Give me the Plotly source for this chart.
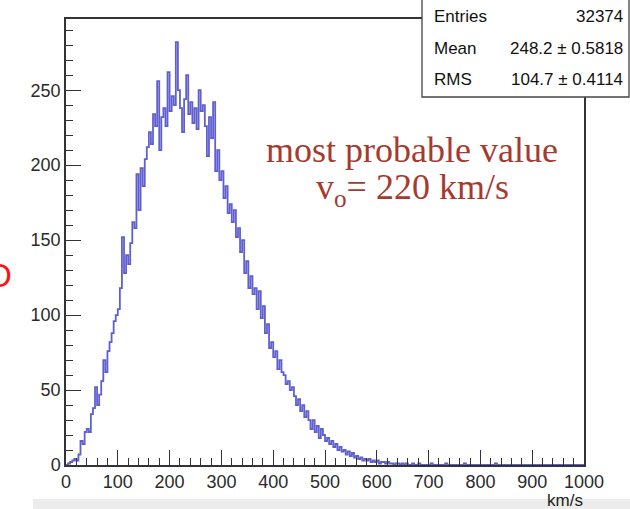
import numpy as np
import plotly.graph_objects as go

# ---------------- data ----------------
v_low = 0
v_high = 1000
bin_width = 4  # km/s
counts = [
    0, 1, 2, 3, 4, 3, 7, 16, 14, 22,            # 0-40
    24, 22, 34, 38, 52, 40, 47, 56, 70, 62,      # 40-80
    76, 82, 88, 96, 100, 104, 118, 152, 128, 140,  # 80-120
    134, 148, 162, 158, 194, 170, 198, 186, 204, 212,  # 120-160
    222, 214, 234, 226, 256, 210, 232, 238, 226, 262,  # 160-200
    236, 246, 240, 282, 250, 238, 222, 244, 260, 234,  # 200-240
    242, 228, 238, 224, 250, 236, 240, 226, 206, 232,  # 240-280
    218, 242, 196, 210, 190, 196, 178, 186, 168, 174,  # 280-320
    162, 170, 152, 158, 142, 150, 128, 136, 118, 126,  # 320-360
    114, 118, 104, 116, 98, 106, 88, 94, 78, 82,       # 360-400
    72, 76, 64, 70, 62, 60, 54, 56, 50, 52,            # 400-440
    46, 40, 44, 36, 40, 32, 36, 30, 24, 30,            # 440-480
    22, 26, 18, 24, 20, 16, 18, 14, 16, 12,            # 480-520
    14, 10, 12, 9, 10, 7, 9, 6, 8, 5,                  # 520-560
    6, 4, 5, 3, 4, 3, 4, 2, 3, 2,                      # 560-600
    3, 1, 2, 2, 1, 2, 1, 1, 0, 1,                      # 600-640
    1, 0, 1, 0, 1, 0, 0, 1, 0, 0,                      # 640-680
    1, 0, 0, 0, 0, 0, 1, 0, 0, 0,                      # 680-720
    0, 0, 0, 1, 0, 0, 0, 0, 0, 0,                      # 720-760
    0, 0, 1, 0, 0, 0, 0, 0, 0, 0,                      # 760-800
    0, 0, 0, 0, 0, 0, 0, 1, 0, 0,                      # 800-840
    0, 0, 0, 0, 0, 0, 0, 0, 0, 0,                      # 840-880
    0, 0, 0, 0, 0, 0, 0, 0, 0, 0,                      # 880-920
    0, 0, 0, 0, 0, 0, 0, 0, 0, 0,                      # 920-960
    0, 0, 0, 0, 0, 0, 0, 0, 0, 0,                      # 960-1000
]
x_ticks = [0, 100, 200, 300, 400, 500, 600, 700, 800, 900, 1000]
y_ticks = [0, 50, 100, 150, 200, 250]
x_title = "km/s"
stats_labels = ["Entries", "Mean", "RMS"]
stats_values = ["32374", "248.2 ± 0.5818", "104.7 ± 0.4114"]
note_line1 = "most probable value"
note_line2 = "v<sub>o</sub>= 220 km/s"

# ---------------- figure ----------------
W, H = 630, 509
L, R, T, B = 66, 584, 19, 465   # plot frame in pixels

def px(xp):
    return (xp - L) / (R - L)

def py(yp):
    return (B - yp) / (B - T)

edges = np.arange(v_low, v_high + bin_width, bin_width)
xs = list(edges[:-1]) + [v_high]
ys = counts + [counts[-1]]

fig = go.Figure()
fig.add_trace(go.Scatter(
    x=xs, y=ys, mode="lines", line_shape="hv",
    line=dict(color="rgba(50,50,195,0.78)", width=1.8),
    hoverinfo="skip", showlegend=False,
))

axis_font = dict(family="Liberation Sans, Arial, sans-serif", size=18, color="#2a2a2a")
fig.update_layout(
    width=W, height=H,
    margin=dict(l=L, r=W - R, t=T, b=H - B, pad=0),
    paper_bgcolor="white", plot_bgcolor="white",
    showlegend=False,
    xaxis=dict(
        range=[v_low, v_high], tickvals=x_ticks, ticks="inside", ticklen=15,
        tickwidth=1.2, tickcolor="#333", showgrid=False, zeroline=False,
        showline=True, linecolor="#333", linewidth=1.5, mirror=True,
        tickfont=axis_font,
        minor=dict(dtick=20, tick0=0, ticks="inside", ticklen=7, tickwidth=1.2,
                   tickcolor="#333", showgrid=False),
    ),
    yaxis=dict(
        range=[0, 297.5], tickvals=y_ticks, ticks="inside", ticklen=15,
        tickwidth=1.2, tickcolor="#333", showgrid=False, zeroline=False,
        showline=True, linecolor="#333", linewidth=1.5, mirror=True,
        tickfont=axis_font, ticklabelstandoff=0,
        minor=dict(dtick=10, tick0=0, ticks="inside", ticklen=7, tickwidth=1.2,
                   tickcolor="#333", showgrid=False),
    ),
)

shapes = []
# light gray band at the bottom of the screenshot
shapes.append(dict(type="rect", xref="paper", yref="paper",
                   x0=px(33), x1=px(632), y0=py(511), y1=py(499),
                   fillcolor="#ececec", line=dict(width=0), layer="below"))
# stats box
shapes.append(dict(type="rect", xref="paper", yref="paper",
                   x0=px(422), x1=px(629), y0=py(97), y1=py(-2),
                   fillcolor="white", line=dict(color="#444", width=1.3),
                   layer="above"))
fig.update_layout(shapes=shapes)

ann = []
stat_font = dict(family="Liberation Sans, Arial, sans-serif", size=17, color="#111")
row_y = [17, 49, 80]
for lab, val, yy in zip(stats_labels, stats_values, row_y):
    ann.append(dict(text=lab, xref="paper", yref="paper", x=px(432), y=py(yy),
                    xanchor="left", yanchor="middle", showarrow=False, font=stat_font))
    ann.append(dict(text=val, xref="paper", yref="paper", x=px(625), y=py(yy),
                    xanchor="right", yanchor="middle", showarrow=False, font=stat_font))

note_font = dict(family="Liberation Serif, Times New Roman, serif", size=36, color="#a63a2e")
ann.append(dict(text=note_line1, xref="paper", yref="paper", x=px(412), y=py(150),
                xanchor="center", yanchor="middle", showarrow=False, font=note_font))
ann.append(dict(text=note_line2, xref="paper", yref="paper", x=px(412), y=py(189),
                xanchor="center", yanchor="middle", showarrow=False, font=note_font))

# x-axis title at the right end, below the last tick label
ann.append(dict(text=x_title, xref="paper", yref="paper", x=px(585), y=py(500),
                xanchor="right", yanchor="middle", showarrow=False,
                font=dict(family="Liberation Sans, Arial, sans-serif", size=17, color="#222")))

# cut-off red letter at the far left edge of the screenshot
ann.append(dict(text="D", xref="paper", yref="paper", x=px(14), y=py(275),
                xanchor="right", yanchor="middle", showarrow=False,
                font=dict(family="Liberation Sans, Arial, sans-serif", size=33, color="#ff1010")))

fig.update_layout(annotations=ann)

fig.write_html("out.html")
